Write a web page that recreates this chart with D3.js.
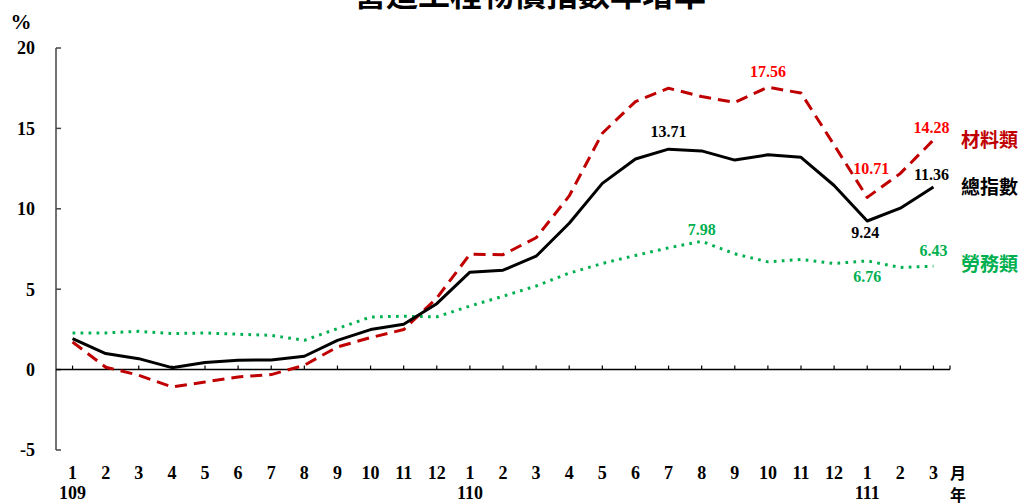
<!DOCTYPE html>
<html><head><meta charset="utf-8">
<script src="https://cdn.jsdelivr.net/npm/d3@7"></script>
<style>
html,body{margin:0;padding:0;background:#fff;}
svg{display:block;}
</style></head>
<body>
<svg id="chart" width="1022" height="503"></svg>
<script>
const title = "營造工程物價指數年增率";
const months = ["1","2","3","4","5","6","7","8","9","10","11","12","1","2","3","4","5","6","7","8","9","10","11","12","1","2","3"];
const years = [{idx:0,label:"109"},{idx:12,label:"110"},{idx:24,label:"111"}];
const yTicks = [-5,0,5,10,15,20];
const totalIndex = [1.93,1.0,0.68,0.12,0.44,0.58,0.6,0.83,1.82,2.49,2.82,4.1,6.06,6.18,7.05,9.1,11.58,13.1,13.71,13.6,13.03,13.36,13.2,11.45,9.24,10.04,11.36];
const materials = [1.72,0.15,-0.35,-1.08,-0.77,-0.46,-0.31,0.27,1.41,1.99,2.49,4.45,7.17,7.15,8.2,10.8,14.7,16.67,17.5,16.98,16.62,17.56,17.2,13.97,10.71,12.2,14.28];
const labor = [2.28,2.28,2.38,2.24,2.28,2.2,2.13,1.82,2.55,3.27,3.32,3.28,3.95,4.56,5.2,6.0,6.6,7.1,7.57,7.98,7.2,6.7,6.85,6.6,6.76,6.35,6.43];

const series = [
  {name:"材料類", values:materials, color:"#C00000", labelColor:"#FF0000", dash:"12,7", width:3,
   labels:[{i:21,dx:0,dy:-16},{i:24,dx:4,dy:-29},{i:26,dx:-2,dy:-13}], nameY:140},
  {name:"總指數", values:totalIndex, color:"#000000", labelColor:"#000000", dash:null, width:3,
   labels:[{i:18,dx:0,dy:-18},{i:24,dx:-2,dy:11},{i:26,dx:-2,dy:-13}], nameY:187},
  {name:"勞務類", values:labor, color:"#00B050", labelColor:"#00B050", dash:"2.7,5.3", width:3,
   labels:[{i:19,dx:0,dy:-12},{i:24,dx:0,dy:16},{i:26,dx:0,dy:-16}], nameY:264}
];

const svg = d3.select("#chart");
const x = d3.scalePoint().domain(d3.range(months.length)).range([56,950]).padding(0.5);
const y = d3.scaleLinear().domain([-5,20]).range([450,48]);
const numFont = "'Liberation Serif','Times New Roman',serif";
const cjkFont = "'Noto Sans CJK TC','Noto Sans CJK SC',sans-serif";

// title
svg.append("text").attr("x",530).attr("y",6).attr("text-anchor","middle")
  .attr("font-family",cjkFont).attr("font-weight",700).attr("font-size",32).attr("fill","#000").text(title);

// y axis
svg.append("line").attr("x1",56).attr("x2",56).attr("y1",y(20)).attr("y2",y(-5)).attr("stroke","#444").attr("stroke-width",1.5);
svg.selectAll(".yt").data(yTicks).enter().append("line")
  .attr("x1",56).attr("x2",61).attr("y1",d=>y(d)).attr("y2",d=>y(d)).attr("stroke","#444").attr("stroke-width",1.5);
svg.selectAll(".yl").data(yTicks).enter().append("text")
  .attr("x",35).attr("y",d=>y(d)).attr("dy","0.35em").attr("text-anchor","end")
  .attr("font-family",numFont).attr("font-weight",700).attr("font-size",18).text(d=>d);
svg.append("text").attr("x",21).attr("y",29).attr("text-anchor","middle")
  .attr("font-family",numFont).attr("font-weight",700).attr("font-size",21).text("%");

// x axis at zero
svg.append("line").attr("x1",56).attr("x2",950).attr("y1",y(0)).attr("y2",y(0)).attr("stroke","#000").attr("stroke-width",1.5);
const xTickPos = d3.range(months.length).map(i=>x(i)).concat([950]);
svg.selectAll(".xt").data(xTickPos).enter().append("line")
  .attr("x1",d=>d).attr("x2",d=>d).attr("y1",y(0)).attr("y2",y(0)-4).attr("stroke","#000").attr("stroke-width",1.2);
svg.selectAll(".xl").data(months).enter().append("text")
  .attr("x",(d,i)=>x(i)).attr("y",479).attr("text-anchor","middle")
  .attr("font-family",numFont).attr("font-weight",700).attr("font-size",18).text(d=>d);
svg.selectAll(".yr").data(years).enter().append("text")
  .attr("x",d=>x(d.idx)).attr("y",499).attr("text-anchor","middle")
  .attr("font-family",numFont).attr("font-weight",700).attr("font-size",18).text(d=>d.label);
svg.append("text").attr("x",958).attr("y",479).attr("text-anchor","middle")
  .attr("font-family",cjkFont).attr("font-weight",700).attr("font-size",16).text("月");
svg.append("text").attr("x",958).attr("y",501).attr("text-anchor","middle")
  .attr("font-family",cjkFont).attr("font-weight",700).attr("font-size",16).text("年");

// lines
const line = d3.line().x((d,i)=>x(i)).y(d=>y(d));
const order = [series[2], series[0], series[1]];
order.forEach(s=>{
  const p = svg.append("path").datum(s.values).attr("d",line)
    .attr("fill","none").attr("stroke",s.color).attr("stroke-width",s.width)
    .attr("stroke-linejoin","round");
  if(s.dash) p.attr("stroke-dasharray",s.dash);
});

// data labels and series names
series.forEach(s=>{
  s.labels.forEach(l=>{
    svg.append("text").attr("x",x(l.i)+l.dx).attr("y",y(s.values[l.i])+l.dy).attr("dy","0.35em")
      .attr("text-anchor","middle").attr("font-family",numFont).attr("font-weight",700)
      .attr("font-size",16).attr("fill",s.labelColor).text(s.values[l.i].toFixed(2));
  });
  svg.append("text").attr("x",961).attr("y",s.nameY).attr("dy","0.35em")
    .attr("font-family",cjkFont).attr("font-weight",700).attr("font-size",19)
    .attr("fill",s.color).text(s.name);
});
</script>
</body></html>
